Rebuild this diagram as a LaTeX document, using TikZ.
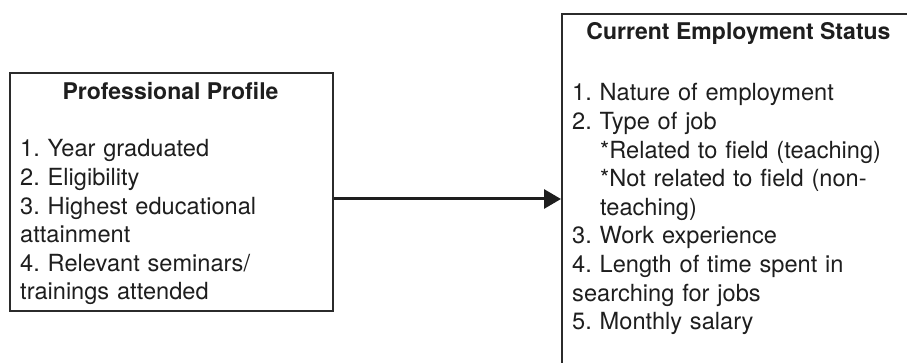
\documentclass[tikz,border=0pt]{standalone}
\usepackage{fontspec}
\setmainfont{TeX Gyre Heros}
\usetikzlibrary{arrows.meta}
\definecolor{txt}{HTML}{1E1E1E}
\definecolor{boxgray}{HTML}{2B2B2B}
\frenchspacing
\begin{document}
\begin{tikzpicture}[x=1pt,y=-1pt,
  box/.style={draw=boxgray, line width=2pt, inner sep=0pt, anchor=north west},
  ttl/.style={font=\fontsize{23}{28}\selectfont\bfseries, anchor=base, inner sep=0pt, text=txt},
  lst/.style={font=\fontsize{23.6}{28.6}\selectfont\frenchspacing, anchor=base west, inner sep=0pt, text width=340pt, align=left, text=txt},
  arr/.style={line width=3pt, -{Triangle[length=17pt,width=19pt]}, draw=txt}]
\useasboundingbox (0,0) rectangle (907,363);
\fill[white] (0,0) rectangle (907,363);
\node[box, minimum width=323pt, minimum height=238pt] (L) at (9,72) {};
\node[box, minimum width=355pt, minimum height=360pt] (R) at (561,13) {};
\node[ttl] (Lt) at (170.5,100) {Professional Profile};
\node[ttl] (Rt) at (738.5,40) {Current Employment Status};
\node[lst] (Ll) at (20,157) {1. Year graduated\\
2. Eligibility\\
3. Highest educational\\
attainment\\
4. Relevant seminars/\\
trainings attended};
\node[lst] (Rl) at (572,101) {1. Nature of employment\\
2. Type of job\\
\hspace*{28pt}*Related to field (teaching)\\
\hspace*{28pt}*Not related to field (non-\\
\hspace*{28pt}teaching)\\
3. Work experience\\
4. Length of time spent in\\
searching for jobs\\
5. Monthly salary};
\draw[arr] ([yshift=-7pt]L.east) -- ([yshift=-7pt]L.east -| R.west);
\end{tikzpicture}
\end{document}
